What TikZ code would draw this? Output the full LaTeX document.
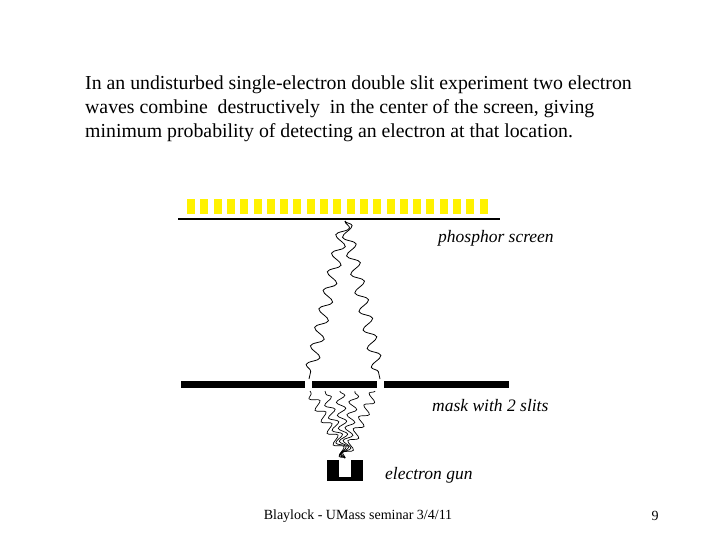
\documentclass[tikz,border=0pt]{standalone}
\usepackage{fontspec}
\setmainfont{Liberation Serif}
\usetikzlibrary{decorations.pathmorphing}
\begin{document}
\begin{tikzpicture}[x=1pt,y=-1pt,
  wave/.style={decorate,decoration={snake,amplitude=6pt,segment length=19pt},line width=0.8pt},
  wavesm/.style={decorate,decoration={snake,amplitude=4.5pt,segment length=13pt},line width=0.7pt},
  lbl/.style={font=\fontsize{17.5}{20}\selectfont\itshape,anchor=west,inner sep=0}]
\useasboundingbox (0,0) rectangle (720,540);
\node[anchor=north west,align=left,inner sep=0,font=\fontsize{19.8}{24}\selectfont] (title) at (85,76)
 {In an undisturbed single-electron double slit experiment two electron\\
  waves combine\ \ destructively\ \ in the center of the screen, giving\\
  minimum probability of detecting an electron at that location.};
\foreach \i in {0,...,22} \fill[yellow] (187+\i*13.3,199) rectangle ++(8,15);
\draw[line width=2.2pt] (178,219) -- (500,219);
\fill (181,381) rectangle (305,388);
\fill (312,381) rectangle (377,388);
\fill (384,381) rectangle (509,388);
\fill (327,460) rectangle (363,481);
\fill[white] (339,460) rectangle (351,477);
\coordinate (top) at (345,221);
\coordinate (s1) at (309,379);
\coordinate (s2) at (380,379);
\coordinate (gun) at (345,458);
\draw[wave] (top) -- (s1);
\draw[wave] (top) -- (s2);
\foreach \xx in {310,325,340,355,375} \draw[wavesm] (gun) -- (\xx,391);
\node[lbl] (ps) at (438,238) {phosphor screen};
\node[lbl] (mk) at (432,406) {mask with 2 slits};
\node[lbl] (eg) at (385,475) {electron gun};
\node[font=\fontsize{14}{16}\selectfont] (ft) at (358,516) {Blaylock - UMass seminar 3/4/11};
\node[font=\fontsize{14}{16}\selectfont] (pg) at (655,516) {9};
\end{tikzpicture}
\end{document}
